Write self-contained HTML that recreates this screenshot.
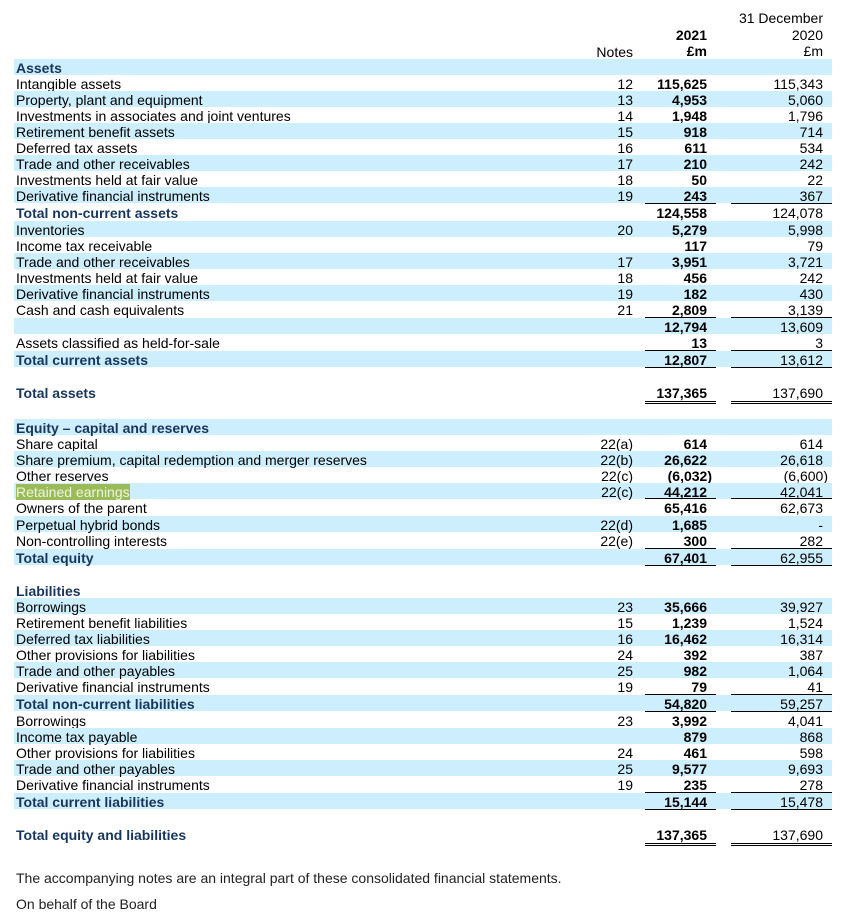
<!DOCTYPE html>
<html><head><meta charset="utf-8"><style>
body{margin:0;width:858px;height:911px;background:#fff;font-family:"Liberation Sans",Arial,sans-serif;font-size:14px;color:#000;position:relative;overflow:hidden}
.a{position:absolute;white-space:nowrap;line-height:16px}
.t{padding-top:1px;line-height:16px}
.band{position:absolute;left:14px;width:818px;height:16px;background:#cdeefc}
.r{text-align:right}
.hd{color:#17365d;font-weight:bold}
.ln{position:absolute;height:1px;background:#000}
</style></head><body>
<div class="a r" style="right:35px;top:10px;width:200px">31 December</div>
<div class="a r" style="right:35px;top:27px;width:100px">2020</div>
<div class="a r" style="right:35px;top:43px;width:100px">£m</div>
<div class="a r" style="left:607px;top:27px;width:100px;font-weight:bold">2021</div>
<div class="a r" style="left:607px;top:43px;width:100px;font-weight:bold">£m</div>
<div class="a r" style="left:533px;top:44px;width:100px">Notes</div>
<div id="rows"></div>
<div class="a" style="left:16px;top:870px;color:#222">The accompanying notes are an integral part of these consolidated financial statements.</div>
<div class="a" style="left:16px;top:896px;color:#222">On behalf of the Board</div>
<script>
const labels=["Assets","Intangible assets","Property, plant and equipment","Investments in associates and joint ventures","Retirement benefit assets","Deferred tax assets","Trade and other receivables","Investments held at fair value","Derivative financial instruments","Total non-current assets","Inventories","Income tax receivable","Trade and other receivables","Investments held at fair value","Derivative financial instruments","Cash and cash equivalents","","Assets classified as held-for-sale","Total current assets","Total assets",
"Equity \u2013 capital and reserves","Share capital","Share premium, capital redemption and merger reserves","Other reserves","Retained earnings","Owners of the parent","Perpetual hybrid bonds","Non-controlling interests","Total equity",
"Liabilities","Borrowings","Retirement benefit liabilities","Deferred tax liabilities","Other provisions for liabilities","Trade and other payables","Derivative financial instruments","Total non-current liabilities","Borrowings","Income tax payable","Other provisions for liabilities","Trade and other payables","Derivative financial instruments","Total current liabilities","Total equity and liabilities"];
const notes=["","12","13","14","15","16","17","18","19","","20","","17","18","19","21","","","","",
"","22(a)","22(b)","22(c)","22(c)","","22(d)","22(e)","",
"","23","15","16","24","25","19","","23","","24","25","19","",""];
const v2021=["","115,625","4,953","1,948","918","611","210","50","243","124,558","5,279","117","3,951","456","182","2,809","12,794","13","12,807","137,365",
"","614","26,622","(6,032)","44,212","65,416","1,685","300","67,401",
"","35,666","1,239","16,462","392","982","79","54,820","3,992","879","461","9,577","235","15,144","137,365"];
const v2020=["","115,343","5,060","1,796","714","534","242","22","367","124,078","5,998","79","3,721","242","430","3,139","13,609","3","13,612","137,690",
"","614","26,618","(6,600)","42,041","62,673","-","282","62,955",
"","39,927","1,524","16,314","387","1,064","41","59,257","4,041","868","598","9,693","278","15,478","137,690"];
const ys=[67,83,99,115,131,147,163,179,195,212,229,245,261,277,293,309,326,342,359,392,
427,443,459,475,491,507,524,540,557,
590,606,622,638,654,670,686,703,720,736,752,768,784,801,834];
const shaded=[1,0,1,0,1,0,1,0,1,0,1,0,1,0,1,0,1,0,1,0, 1,0,1,0,1,0,1,0,1, 0,1,0,1,0,1,0,1,0,1,0,1,0,1,0];
const heading=[0,18,19,9,20,28,29,36,42,43];
const lineAbove=[9,16,18,25,28,36,37,42];
const lineBelow=[18,28,36,42];
const doubleBelow=[19,43];
const root=document.getElementById('rows');
function mk(cls,style,text){const d=document.createElement('div');d.className=cls;d.style.cssText=style;if(text!==undefined)d.textContent=text;root.appendChild(d);return d;}
function lines(y){
  const l1=mk('ln','left:645px;width:71px;top:'+y+'px');
  
  
  const l2=mk('ln','left:731px;width:101px;top:'+y+'px');
  
  
}
labels.forEach((lab,i)=>{
  const y=ys[i];const top=y-8;
  if(shaded[i]){const b=mk('band','top:'+top+'px');
    
    }
  const isH=heading.includes(i);
  let st='left:16px;top:'+(top+1)+'px;';
  if(i===24)st+='background:#9bbb59;color:#eef4e4;';
  const L=mk('a'+(isH?' hd':''),st,lab);
  
  
  const N=mk('a r','left:533px;width:100px;top:'+(top+1)+'px',notes[i]);
  
  
  const pad=v2021[i].startsWith('(')?'left:612px':'left:607px';
  const A=mk('a r',pad+';width:100px;font-weight:bold;top:'+(top+1)+'px',v2021[i]);
  
  
  const pad2=v2020[i].startsWith('(')?'left:728px':'left:723px';
  const B=mk('a r',pad2+';width:100px;top:'+(top+1)+'px',v2020[i]);
  
  
  if(lineAbove.includes(i))lines(top-1);
  if(lineBelow.includes(i))lines(top+16);
  if(doubleBelow.includes(i)){lines(y+9);lines(y+11);}
});
</script>
</body></html>
